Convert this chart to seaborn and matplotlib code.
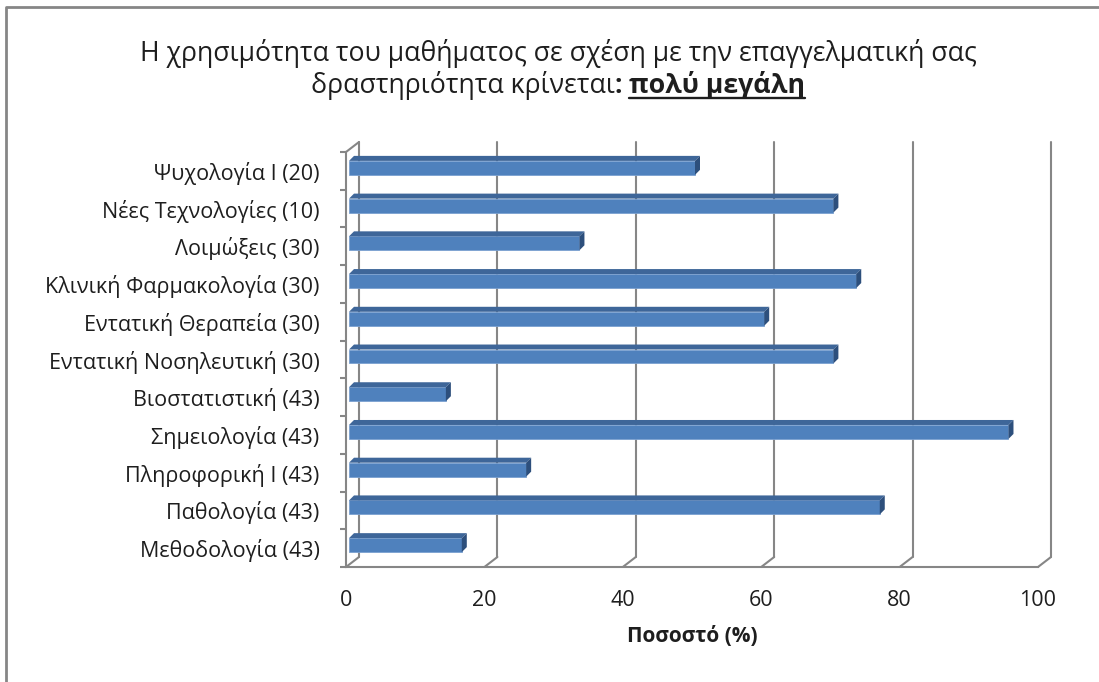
import matplotlib
matplotlib.use('Agg')
import matplotlib.pyplot as plt
import matplotlib.transforms as mtransforms
from matplotlib import font_manager
from matplotlib.lines import Line2D
from matplotlib.patches import Polygon
import seaborn as sns

# Chart data (percent answering "πολύ μεγάλη", number of students in brackets)
courses = ['Ψυχολογία Ι (20)', 'Νέες Τεχνολογίες (10)', 'Λοιμώξεις (30)',
           'Κλινική Φαρμακολογία (30)', 'Εντατική Θεραπεία (30)',
           'Εντατική Νοσηλευτική (30)', 'Βιοστατιστική (43)', 'Σημειολογία (43)',
           'Πληροφορική Ι (43)', 'Παθολογία (43)', 'Μεθοδολογία (43)']
percent = [50.0, 70.0, 33.3, 73.3, 60.0, 70.0, 14.0, 95.3, 25.6, 76.7, 16.3]
x_ticks = [0, 20, 40, 60, 80, 100]

title_line1 = 'Η χρησιμότητα του μαθήματος σε σχέση με την επαγγελματική σας'
title_line2 = 'δραστηριότητα κρίνεται'
title_emph = 'πολύ μεγάλη'
x_label = 'Ποσοστό (%)'

sns.set_style('white')
available = {f.name for f in font_manager.fontManager.ttflist}
font = next((f for f in ['Liberation Sans Narrow', 'Open Sans', 'DejaVu Sans'] if f in available), 'DejaVu Sans')
plt.rcParams['font.family'] = [font, 'DejaVu Sans']

W, H = 1099, 682
fig = plt.figure(figsize=(W / 100, H / 100), dpi=100)
fig.patch.set_facecolor('white')

# plot area in pixels
left, right, top, bottom = 346, 1038, 152, 567
ax = fig.add_axes([left / W, 1 - bottom / H, (right - left) / W, (bottom - top) / H])

grey = '#868686'
txt = '#1E1E1E'
front = '#4F81BD'
top_col = '#3E6699'
side_col = '#2D4F7C'

sns.barplot(x=percent, y=courses, orient='h', color=front, saturation=1,
            width=0.37, ax=ax, zorder=3)
ax.set_xlim(0, 100)
ax.set_ylim(len(courses) - 0.5, -0.5)

px_x = (right - left) / 100.0          # pixels per percent
px_y = (bottom - top) / len(courses)   # pixels per category

# 3D look of the bars: shift, then add top and right faces
bar_shift = mtransforms.offset_copy(ax.transData, fig=fig, x=3, y=3, units='dots')
dx, dy = 5 / px_x, 5 / px_y
for p in ax.patches:
    p.set_transform(bar_shift)
    p.set_edgecolor('#7AA0D0')
    p.set_linewidth(0.6)
    x0, x1 = p.get_x(), p.get_x() + p.get_width()
    yt, yb = p.get_y(), p.get_y() + p.get_height()
    ax.add_patch(Polygon([(x0, yt), (x1, yt), (x1 + dx, yt - dy), (x0 + dx, yt - dy)],
                         closed=True, facecolor=top_col, edgecolor='none',
                         transform=bar_shift, zorder=3, clip_on=False))
    ax.add_patch(Polygon([(x1, yt), (x1 + dx, yt - dy), (x1 + dx, yb - dy), (x1, yb)],
                         closed=True, facecolor=side_col, edgecolor='none',
                         transform=bar_shift, zorder=3, clip_on=False))

# walls: back gridlines and slanted connectors
wdx, wdy = 13 / px_x, 10 / px_y
back = mtransforms.offset_copy(ax.transData, fig=fig, x=13, y=10, units='dots')
ybot, ytop = len(courses) - 0.5, -0.5
for xv in x_ticks:
    ax.add_line(Line2D([xv, xv], [ybot, ytop], color=grey, lw=1.5,
                       transform=back, clip_on=False, zorder=1))
    ax.add_line(Line2D([xv, xv + wdx], [ybot, ybot - wdy], color=grey, lw=1.5,
                       clip_on=False, zorder=1))
ax.add_line(Line2D([0, wdx], [ytop, ytop - wdy], color=grey, lw=1.5, clip_on=False, zorder=1))

for s in ['top', 'right']:
    ax.spines[s].set_visible(False)
for s in ['left', 'bottom']:
    ax.spines[s].set_color(grey)
    ax.spines[s].set_linewidth(1.5)

ax.set_xticks(x_ticks)
ax.set_xticklabels([str(v) for v in x_ticks])
ax.set_yticks([i - 0.5 for i in range(len(courses) + 1)], minor=True)
ax.tick_params(axis='x', which='major', direction='out', length=4.3, width=1.5,
               color=grey, pad=12, labelsize=15.5, labelcolor=txt)
ax.tick_params(axis='y', which='major', length=0, pad=19, labelsize=15.5, labelcolor=txt)
ax.tick_params(axis='y', which='minor', direction='out', length=4.3, width=1.5, color=grey, left=True)
ax.set_ylabel('')
ax.set_xlabel(x_label, fontsize=15, fontweight='bold', color=txt)
ax.xaxis.set_label_coords(0.5, -(637 - bottom) / (bottom - top))
ax.xaxis.label.set_va('center')

# title, two lines, with the last words bold and underlined
fs_title = 19.2
cx = 558 / W
fig.text(cx, 1 - 61 / H, title_line1, ha='center', va='baseline', fontsize=fs_title, color=txt)
renderer = fig.canvas.get_renderer()
y2 = 1 - 93 / H
parts = [(title_line2, 'normal'), (': ', 'bold'), (title_emph, 'bold')]
texts = [fig.text(0, y2, s, ha='left', va='baseline', fontsize=fs_title, fontweight=w, color=txt)
         for s, w in parts]
widths = [t.get_window_extent(renderer).width for t in texts]
xpos = cx * W - sum(widths) / 2
for t, w in zip(texts, widths):
    t.set_x(xpos / W)
    xpos += w
ul_end = xpos
ul_start = xpos - widths[-1]
fig.add_artist(Line2D([ul_start / W, ul_end / W], [1 - 98 / H, 1 - 98 / H],
                      transform=fig.transFigure, color=txt, lw=1.7))

# outer chart border (only top and left edges are inside the picture)
fig.add_artist(Line2D([6 / W, 6 / W, 1.0], [0, 1 - 7 / H, 1 - 7 / H],
                      transform=fig.transFigure, color=grey, lw=2))

fig.savefig('out.png', dpi=100, facecolor='white')
